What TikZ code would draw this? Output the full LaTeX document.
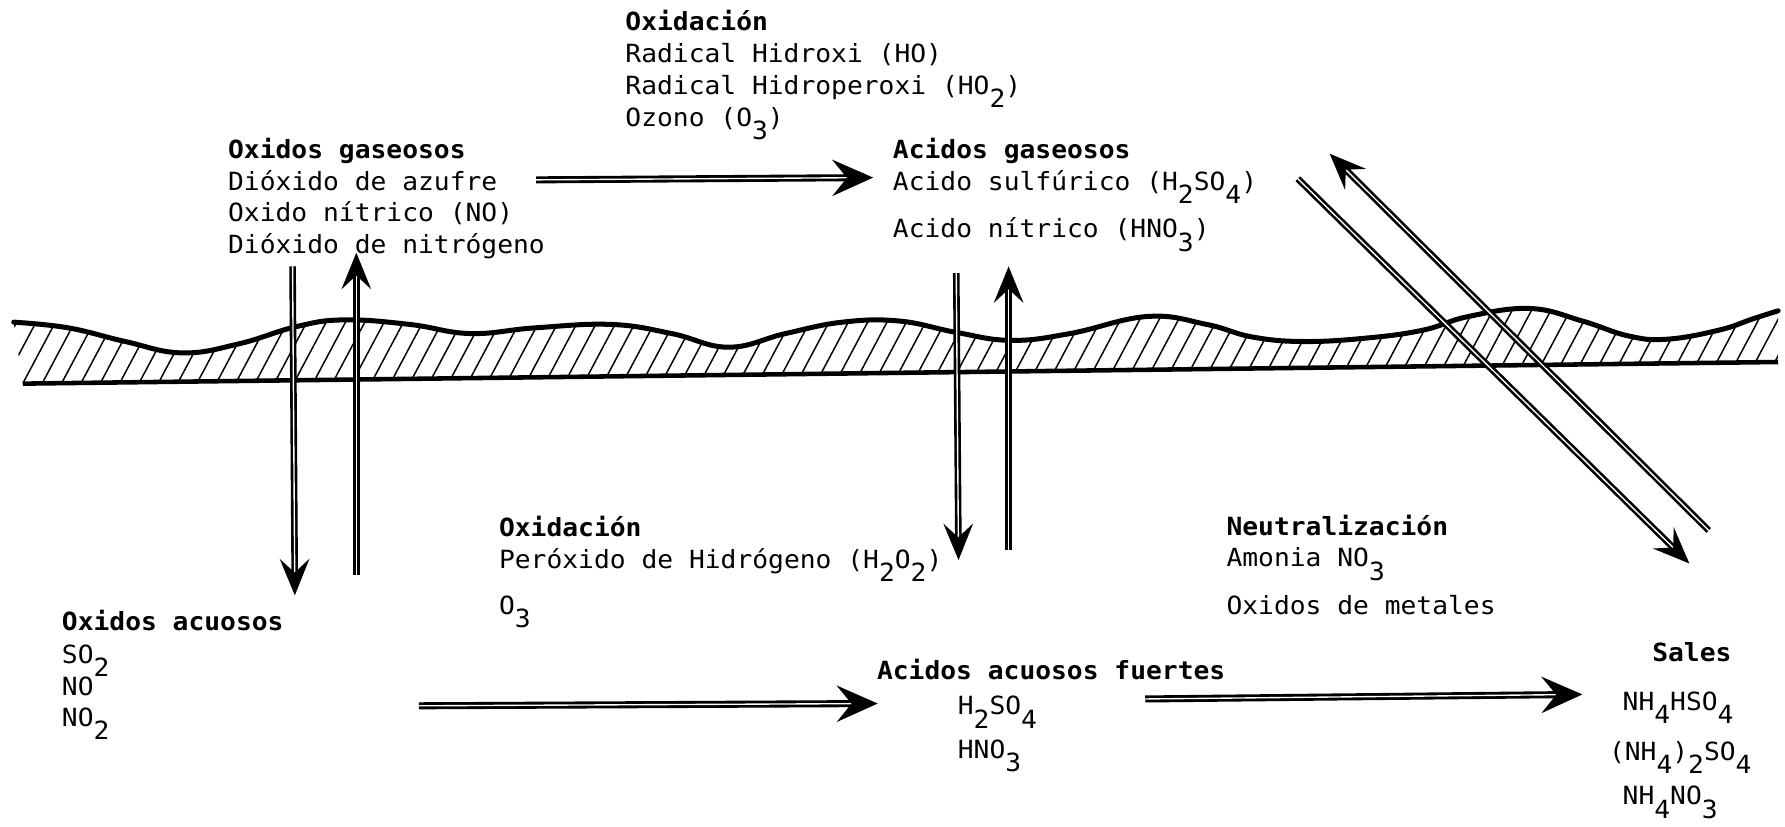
\documentclass[tikz,border=0pt]{standalone}
\usepackage{fontspec}
\setmainfont{DejaVu Sans Mono}[FakeStretch=1.05]
\usetikzlibrary{arrows.meta,patterns.meta}
\newcommand{\sbx}[1]{\raisebox{-5.8pt}{#1}}
\begin{document}
\begin{tikzpicture}[x=0.5pt,y=-0.5pt,
  txt/.style={anchor=base west,inner sep=0pt,font=\fontsize{11}{13}\selectfont},
  ttl/.style={anchor=base west,inner sep=0pt,font=\fontsize{11}{13}\selectfont\bfseries},
  arr/.style={double=white,double distance=0.6pt,line width=1.25pt,-{Stealth[length=18pt,width=16pt,inset=6.5pt]}},
  varr/.style={double=white,double distance=0.6pt,line width=1.15pt,-{Stealth[length=16pt,width=13pt,inset=6pt]}},
  ground/.style={line width=2.2pt,line cap=round,line join=round}]
\useasboundingbox (0,0) rectangle (1568,726);

% ground band
\path[pattern={Lines[angle=62,distance=7.5pt,line width=0.65pt]}]
  plot[smooth,tension=0.7] coordinates{(12,283) (60,288) (110,300) (160,310) (210,302) (260,287) (302,281) (360,285) (413,293) (470,288) (537,285) (590,293) (640,305) (690,293) (740,283) (790,282) (840,292) (888,299) (940,293) (1008,278) (1060,285) (1100,296) (1145,300) (1200,297) (1250,290) (1290,278) (1344,271) (1390,282) (1430,295) (1464,298) (1510,290) (1540,280) (1562,273)}
  -- (1562,318) -- (20,337) -- cycle;
\draw[ground] plot[smooth,tension=0.7] coordinates{(12,283) (60,288) (110,300) (160,310) (210,302) (260,287) (302,281) (360,285) (413,293) (470,288) (537,285) (590,293) (640,305) (690,293) (740,283) (790,282) (840,292) (888,299) (940,293) (1008,278) (1060,285) (1100,296) (1145,300) (1200,297) (1250,290) (1290,278) (1344,271) (1390,282) (1430,295) (1464,298) (1510,290) (1540,280) (1562,273)};
\draw[line width=2pt] (20,337) -- (1562,318);

% texts
\node[ttl] (ox1) at (549,27) {Oxidación};
\node[txt] (ox1a) at (549,55) {Radical Hidroxi (HO)};
\node[txt] (ox1b) at (549,83) {Radical Hidroperoxi (HO\sbx{2})};
\node[txt] (ox1c) at (549,111) {Ozono (O\sbx{3})};

\node[ttl] (og) at (200,139) {Oxidos gaseosos};
\node[txt] (oga) at (200,167) {Dióxido de azufre};
\node[txt] (ogb) at (200,195) {Oxido nítrico (NO)};
\node[txt] (ogc) at (200,223) {Dióxido de nitrógeno};

\node[ttl] (ag) at (784,139) {Acidos gaseosos};
\node[txt] (aga) at (784,167) {Acido sulfúrico (H\sbx{2}SO\sbx{4})};
\node[txt] (agb) at (784,209) {Acido nítrico (HNO\sbx{3})};

\node[ttl] (ox2) at (438,471) {Oxidación};
\node[txt] (ox2a) at (438,499) {Peróxido de Hidrógeno (H\sbx{2}O\sbx{2})};
\node[txt] (ox2b) at (438,540) {O\sbx{3}};

\node[ttl] (nt) at (1077,470) {Neutralización};
\node[txt] (nta) at (1077,498) {Amonia NO\sbx{3}};
\node[txt] (ntb) at (1077,540) {Oxidos de metales};

\node[ttl] (oa) at (54,554) {Oxidos acuosos};
\node[txt] (oaa) at (54,583) {SO\sbx{2}};
\node[txt] (oab) at (54,611) {NO};
\node[txt] (oac) at (54,638) {NO\sbx{2}};

\node[ttl] (aa) at (770,597) {Acidos acuosos fuertes};
\node[txt] (aaa) at (841,628) {H\sbx{2}SO\sbx{4}};
\node[txt] (aab) at (841,666) {HNO\sbx{3}};

\node[ttl] (sl) at (1451,581) {Sales};
\node[txt] (sla) at (1425,624) {NH\sbx{4}HSO\sbx{4}};
\node[txt] (slb) at (1413,668) {(NH\sbx{4})\sbx{2}SO\sbx{4}};
\node[txt] (slc) at (1425,707) {NH\sbx{4}NO\sbx{3}};

% arrow end points
\coordinate (h1s) at (471,158);
\coordinate (h1e) at (767,156);
\coordinate (h2s) at (368,620);
\coordinate (h2e) at (771,618);
\coordinate (h3s) at (1006,614);
\coordinate (h3e) at (1390,610);
\coordinate (v1s) at (257,234);
\coordinate (v1e) at (259,523);
\coordinate (v2s) at (313,505);
\coordinate (v2e) at (313,222);
\coordinate (v3s) at (840,240);
\coordinate (v3e) at (842,492);
\coordinate (v4s) at (886,483);
\coordinate (v4e) at (886,234);
\coordinate (d1s) at (1140,157);
\coordinate (d1e) at (1484,495);
\coordinate (d2s) at (1501,466);
\coordinate (d2e) at (1168,135);

\draw[arr] (h1s) -- (h1e);
\draw[arr] (h2s) -- (h2e);
\draw[arr] (h3s) -- (h3e);
\draw[varr] (v1s) -- (v1e);
\draw[varr] (v2s) -- (v2e);
\draw[varr] (v3s) -- (v3e);
\draw[varr] (v4s) -- (v4e);
\draw[varr] (d1s) -- (d1e);
\draw[varr] (d2s) -- (d2e);
\end{tikzpicture}
\end{document}
